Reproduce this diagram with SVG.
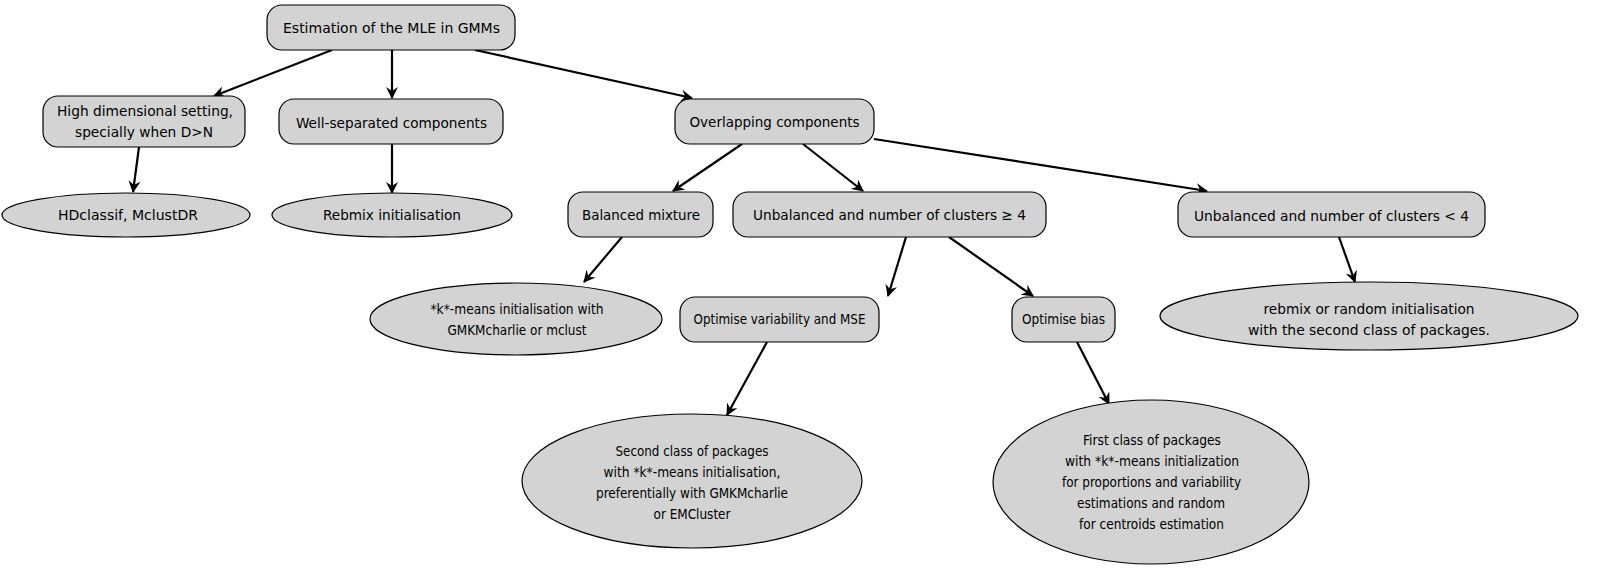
<svg xmlns="http://www.w3.org/2000/svg" width="1616" height="569" viewBox="0 0 1616 569">
<style>
.n{fill:#d3d3d3;stroke:#000;stroke-width:1.2}
.t{font-family:"DejaVu Sans Condensed","DejaVu Sans",sans-serif;font-size:14.5px;fill:#000;text-anchor:middle}
.e{fill:none;stroke:#000;stroke-width:2.2;marker-end:url(#ah)}
</style>
<defs>
<marker id="ah" viewBox="0 0 12 12" refX="11" refY="6" markerWidth="12" markerHeight="12" markerUnits="userSpaceOnUse" orient="auto">
<path d="M0,0 L12,6 L0,12 L4,6 z" fill="#000"/>
</marker>
</defs>
<rect width="1616" height="569" fill="#fff"/>
<g id="edges">
<line class="e" x1="332" y1="50" x2="214" y2="96"/>
<line class="e" x1="392" y1="50" x2="392" y2="98"/>
<line class="e" x1="475" y1="50" x2="692" y2="98"/>
<line class="e" x1="139" y1="147" x2="133" y2="192"/>
<line class="e" x1="392" y1="144" x2="392" y2="193"/>
<line class="e" x1="742" y1="144" x2="673" y2="191"/>
<line class="e" x1="803" y1="144" x2="863" y2="191"/>
<line class="e" x1="874" y1="139" x2="1207" y2="191"/>
<line class="e" x1="622" y1="237" x2="584" y2="282"/>
<line class="e" x1="906" y1="237" x2="888" y2="296"/>
<line class="e" x1="949" y1="237" x2="1033" y2="296"/>
<line class="e" x1="1339" y1="237" x2="1355" y2="282"/>
<line class="e" x1="767" y1="342" x2="727" y2="415"/>
<line class="e" x1="1077" y1="342" x2="1109" y2="404"/>
</g>
<g id="root"><rect class="n" x="267" y="5" width="248" height="45" rx="15"/><text class="t" x="391.5" y="33" textLength="217" lengthAdjust="spacingAndGlyphs">Estimation of the MLE in GMMs</text></g>
<g id="highdim"><rect class="n" x="43" y="96" width="202" height="51" rx="15"/><text class="t" x="145" y="116" textLength="176" lengthAdjust="spacingAndGlyphs">High dimensional setting,</text><text class="t" x="144" y="137" textLength="138" lengthAdjust="spacingAndGlyphs">specially when D&gt;N</text></g>
<g id="wellsep"><rect class="n" x="279" y="99" width="224" height="45" rx="15"/><text class="t" x="391.5" y="127.5" textLength="191" lengthAdjust="spacingAndGlyphs">Well-separated components</text></g>
<g id="overlap"><rect class="n" x="675" y="99" width="199" height="45" rx="15"/><text class="t" x="774.5" y="127" textLength="170" lengthAdjust="spacingAndGlyphs">Overlapping components</text></g>
<g id="hdclassif"><ellipse class="n" cx="126" cy="215" rx="124" ry="22"/><text class="t" x="128" y="220" textLength="140" lengthAdjust="spacingAndGlyphs">HDclassif, MclustDR</text></g>
<g id="rebmix"><ellipse class="n" cx="392" cy="215" rx="120" ry="22"/><text class="t" x="392" y="220" textLength="138" lengthAdjust="spacingAndGlyphs">Rebmix initialisation</text></g>
<g id="balanced"><rect class="n" x="568" y="192" width="145" height="45" rx="15"/><text class="t" x="641" y="220" textLength="118" lengthAdjust="spacingAndGlyphs">Balanced mixture</text></g>
<g id="unbge4"><rect class="n" x="733" y="192" width="313" height="45" rx="15"/><text class="t" x="889.5" y="220" textLength="273" lengthAdjust="spacingAndGlyphs">Unbalanced and number of clusters ≥ 4</text></g>
<g id="unblt4"><rect class="n" x="1178" y="192" width="307" height="45" rx="15"/><text class="t" x="1331.5" y="220.5" textLength="275" lengthAdjust="spacingAndGlyphs">Unbalanced and number of clusters &lt; 4</text></g>
<g id="kmeans"><ellipse class="n" cx="516" cy="319" rx="146" ry="36"/><text class="t" x="517" y="314" textLength="173" lengthAdjust="spacingAndGlyphs">*k*-means initialisation with</text><text class="t" x="517" y="335" textLength="139" lengthAdjust="spacingAndGlyphs">GMKMcharlie or mclust</text></g>
<g id="optvar"><rect class="n" x="680" y="297" width="199" height="45" rx="15"/><text class="t" x="779.5" y="324" textLength="172" lengthAdjust="spacingAndGlyphs">Optimise variability and MSE</text></g>
<g id="optbias"><rect class="n" x="1012" y="297" width="103" height="45" rx="15"/><text class="t" x="1063.5" y="324" textLength="83" lengthAdjust="spacingAndGlyphs">Optimise bias</text></g>
<g id="rebrand"><ellipse class="n" cx="1369" cy="316" rx="209" ry="34"/><text class="t" x="1369" y="313.5" textLength="211" lengthAdjust="spacingAndGlyphs">rebmix or random initialisation</text><text class="t" x="1369" y="335" textLength="242" lengthAdjust="spacingAndGlyphs">with the second class of packages.</text></g>
<g id="second"><ellipse class="n" cx="692" cy="481" rx="170" ry="67"/><text class="t" x="692" y="456" textLength="153" lengthAdjust="spacingAndGlyphs">Second class of packages</text><text class="t" x="692" y="477" textLength="177" lengthAdjust="spacingAndGlyphs">with *k*-means initialisation,</text><text class="t" x="692" y="498" textLength="192" lengthAdjust="spacingAndGlyphs">preferentially with GMKMcharlie</text><text class="t" x="692" y="519" textLength="77" lengthAdjust="spacingAndGlyphs">or EMCluster</text></g>
<g id="first"><ellipse class="n" cx="1151" cy="482" rx="158" ry="82"/><text class="t" x="1152" y="445" textLength="138" lengthAdjust="spacingAndGlyphs">First class of packages</text><text class="t" x="1152" y="466" textLength="174" lengthAdjust="spacingAndGlyphs">with *k*-means initialization</text><text class="t" x="1151.5" y="487" textLength="179" lengthAdjust="spacingAndGlyphs">for proportions and variability</text><text class="t" x="1151" y="508" textLength="148" lengthAdjust="spacingAndGlyphs">estimations and random</text><text class="t" x="1151.5" y="529" textLength="145" lengthAdjust="spacingAndGlyphs">for centroids estimation</text></g>
</svg>
